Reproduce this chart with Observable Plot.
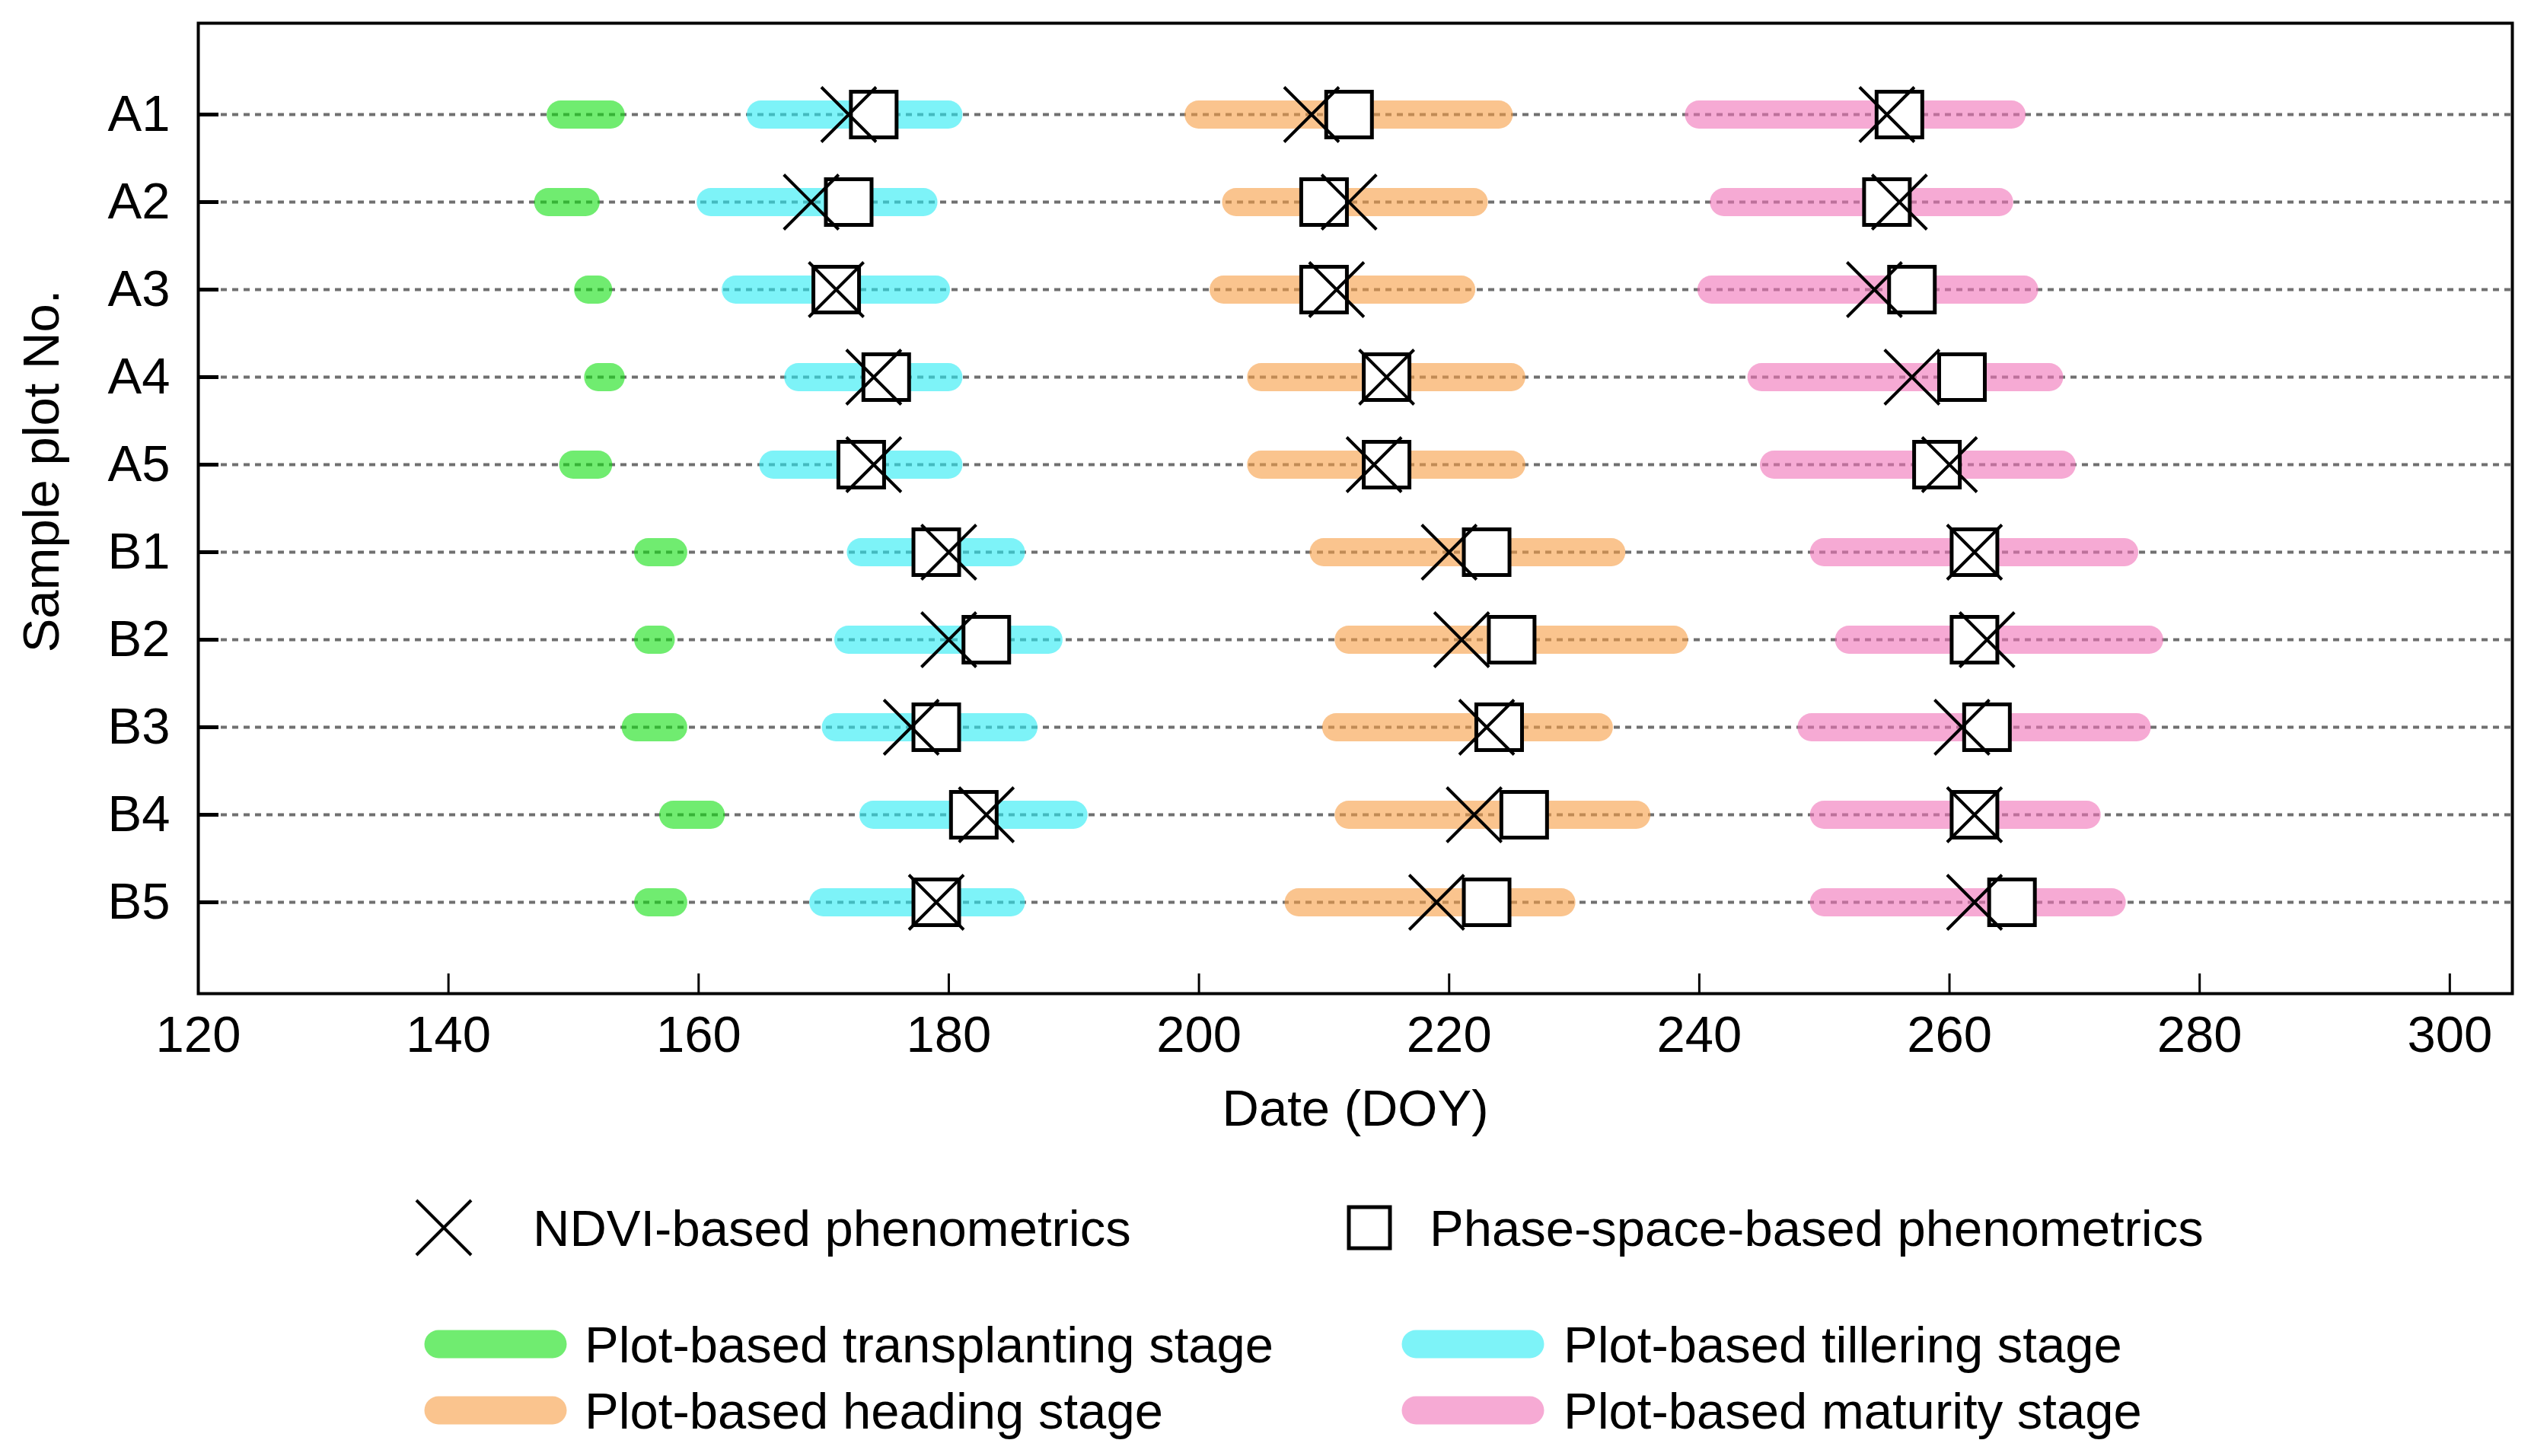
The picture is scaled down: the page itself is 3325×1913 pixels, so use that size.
<!DOCTYPE html>
<html>
<head>
<meta charset="utf-8">
<script src="https://cdn.jsdelivr.net/npm/d3@7"></script>
<script src="https://cdn.jsdelivr.net/npm/@observablehq/plot@0.6"></script>
<style>
  html, body { margin: 0; padding: 0; background: #fff; overflow: hidden; }
  #chart { width: 3325px; }
  svg { display: block; }
</style>
</head>
<body>
<div id="chart"></div>
<script>
// ---------- data ----------
const plots = ["A1","A2","A3","A4","A5","B1","B2","B3","B4","B5"];
const xTicks = [120,140,160,180,200,220,240,260,280,300];

const transplantStart = [149,148,151.2,152,150,156,156,155,158,156];
const transplantEnd   = [153,151,152,153,152,158,157,158,161,158];
const tilleringStart  = [165,161,163,168,166,173,172,171,174,170];
const tilleringEnd    = [180,178,179,180,180,185,188,186,190,185];
const headingStart    = [200,203,202,205,205,210,212,211,212,208];
const headingEnd      = [224,222,221,225,225,233,238,232,235,229];
const maturityStart   = [240,242,241,245,246,250,252,249,250,250];
const maturityEnd     = [265,264,266,268,269,274,276,275,271,273];

const ndviTillering   = [172,169,171,174,174,180,180,177,183,179];
const ndviHeading     = [209,212,211,215,214,220,221,223,222,219];
const ndviMaturity    = [255,256,254,257,260,262,263,261,262,262];
const phaseTillering  = [174,172,171,175,173,179,183,179,182,179];
const phaseHeading    = [212,210,210,215,215,223,225,224,226,223];
const phaseMaturity   = [256,255,257,261,259,262,262,263,262,265];

const stageNames  = ["Plot-based transplanting stage","Plot-based tillering stage","Plot-based heading stage","Plot-based maturity stage"];
const stageColors = ["rgb(17,223,17)","rgb(38,235,243)","rgb(247,157,67)","rgb(240,113,183)"];
const markerNames = ["NDVI-based phenometrics","Phase-space-based phenometrics"];

// ---------- tables ----------
const stageStarts = [transplantStart, tilleringStart, headingStart, maturityStart];
const stageEnds   = [transplantEnd, tilleringEnd, headingEnd, maturityEnd];
const bars = [];
stageNames.forEach((s, k) => plots.forEach((p, i) =>
  bars.push({plot: p, stage: s, start: stageStarts[k][i], end: stageEnds[k][i]})));
const ndvi = [], phase = [];
[ndviTillering, ndviHeading, ndviMaturity].forEach(arr => arr.forEach((v, i) => ndvi.push({plot: plots[i], doy: v})));
[phaseTillering, phaseHeading, phaseMaturity].forEach(arr => arr.forEach((v, i) => phase.push({plot: plots[i], doy: v})));

// custom symbols
const symTimes = {draw(ctx, size) { const r = Math.sqrt(size / Math.PI);
  ctx.moveTo(-r, -r); ctx.lineTo(r, r); ctx.moveTo(r, -r); ctx.lineTo(-r, r); }};
const symSquare = {draw(ctx, size) { const r = Math.sqrt(size / Math.PI);
  ctx.moveTo(-r, -r); ctx.lineTo(r, -r); ctx.lineTo(r, r); ctx.lineTo(-r, r); ctx.closePath(); }};

const W = 3325, H = 1500;
const mL = 260, mR = 25, mT = 30, mB = 195;
const FONT = "'Liberation Sans', Arial, Helvetica, sans-serif";
const FS = 67;

const chart = Plot.plot({
  width: W, height: H,
  marginLeft: mL, marginRight: mR, marginTop: mT, marginBottom: mB,
  style: {fontFamily: FONT, background: "white", color: "black", fontSize: FS + "px"},
  x: {domain: [120, 305]},
  y: {type: "point", domain: plots, padding: 1},
  color: {domain: stageNames, range: stageColors},
  marks: [
    Plot.ruleY(plots, {y: d => d, stroke: "#707070", strokeWidth: 4, strokeDasharray: "8,7"}),
    Plot.ruleY(bars, {y: "plot", x1: "start", x2: "end", stroke: "stage", strokeWidth: 37, strokeLinecap: "round", strokeOpacity: 0.6}),
    Plot.dot(phase, {x: "doy", y: "plot", symbol: symSquare, r: 30, fill: "white", stroke: "black", strokeWidth: 5}),
    Plot.dot(ndvi, {x: "doy", y: "plot", symbol: symTimes, r: 36, fill: "none", stroke: "black", strokeWidth: 4}),
    Plot.ruleY(plots, {y: d => d, insetRight: W - mL - mR - 27, stroke: "black", strokeWidth: 5}),
    Plot.ruleX(xTicks, {x: d => d, insetTop: H - mT - mB - 26, stroke: "black", strokeWidth: 3}),
    Plot.frame({stroke: "black", strokeWidth: 4}),
    Plot.axisX(xTicks, {tickSize: 0, tickPadding: 29, fontSize: FS, label: null, tickFormat: d => String(d)}),
    Plot.axisY({tickSize: 0, tickPadding: 37, fontSize: FS, label: null}),
    Plot.text(["Date (DOY)"], {text: d => d, frameAnchor: "bottom", dy: 126, lineAnchor: "top", fontSize: FS}),
    Plot.text(["Sample plot No."], {text: d => d, frameAnchor: "left", textAnchor: "middle", dx: -205, dy: -49, rotate: -90, fontSize: FS})
  ]
});
document.getElementById("chart").appendChild(chart);

// ---------- legend (below the plot SVG) ----------
const LH = 413;
const leg = d3.select("#chart").append("svg")
  .attr("width", W).attr("height", LH)
  .style("font-family", FONT).style("font-size", FS + "px");
// marker legend row
const row1 = 113;
const gx = leg.append("g").attr("transform", `translate(583,${row1})`);
gx.append("path").attr("d", "M-36,-36L36,36M36,-36L-36,36").attr("stroke", "black").attr("stroke-width", 4).attr("fill", "none");
leg.append("text").attr("x", 700).attr("y", row1 + 24).text(markerNames[0]);
leg.append("rect").attr("x", 1772).attr("y", row1 - 27).attr("width", 54).attr("height", 54)
  .attr("fill", "white").attr("stroke", "black").attr("stroke-width", 5);
leg.append("text").attr("x", 1878).attr("y", row1 + 24).text(markerNames[1]);
// stage legend rows (2 x 2)
const swX = [576, 1860], txX = [768, 2054], rowY = [266, 353];
stageNames.forEach((s, k) => {
  const c = k % 2, r = Math.floor(k / 2);
  leg.append("line").attr("x1", swX[c]).attr("x2", swX[c] + 150)
    .attr("y1", rowY[r]).attr("y2", rowY[r])
    .attr("stroke", stageColors[k]).attr("stroke-opacity", 0.6)
    .attr("stroke-width", 37).attr("stroke-linecap", "round");
  leg.append("text").attr("x", txX[c]).attr("y", rowY[r] + 24).text(s);
});
</script>
</body>
</html>
